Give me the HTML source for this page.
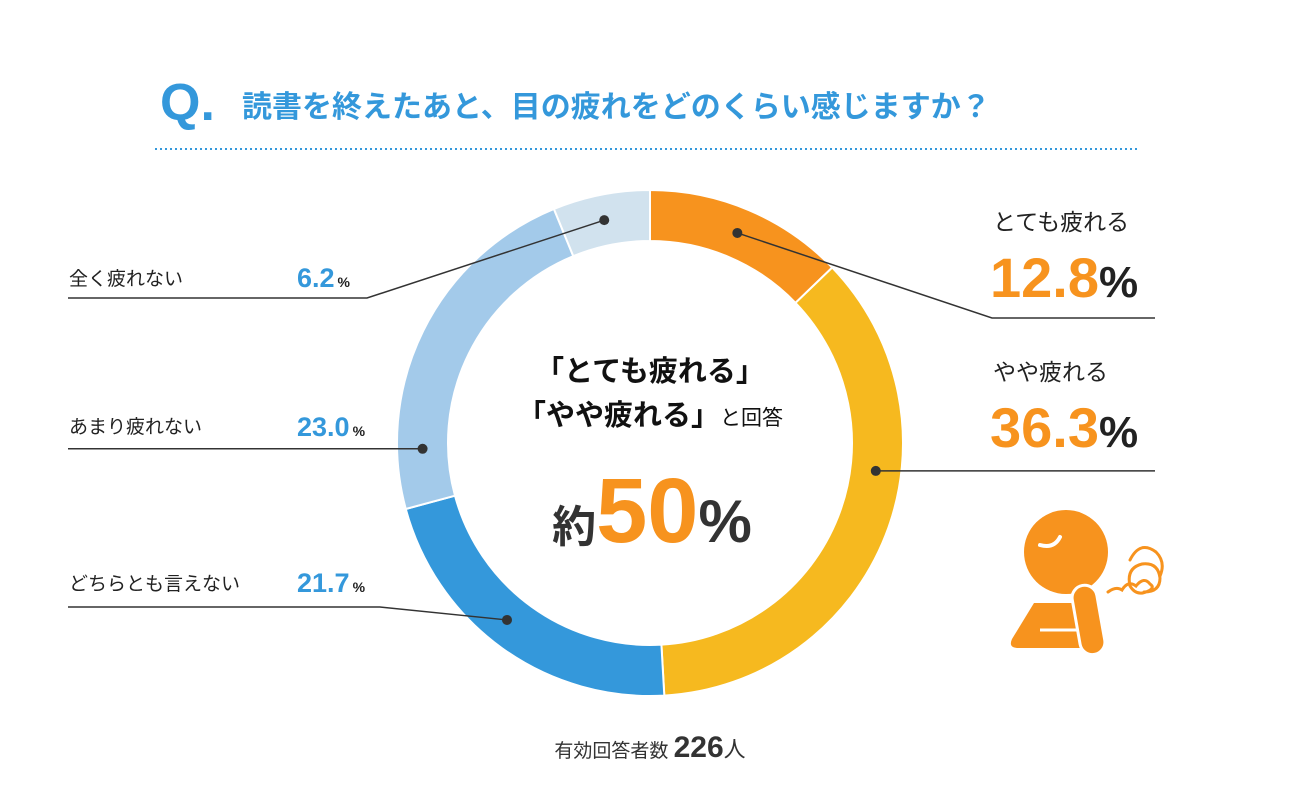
<!DOCTYPE html>
<html lang="ja"><head><meta charset="utf-8">
<style>
body{margin:0;width:1300px;height:800px;background:#fff;overflow:hidden;font-family:"Liberation Sans","Noto Sans CJK JP",sans-serif;color:#222}
svg{position:absolute;left:0;top:0}
</style></head><body>
<svg id="chart" width="1300" height="800" viewBox="0 0 1300 800">
  <text x="160" y="120" font-size="52" font-weight="bold" fill="#3498DB" font-family="Liberation Sans, sans-serif">Q.</text>
  <text x="242" y="117" font-size="30" font-weight="bold" fill="#3498DB" font-family="Liberation Sans, Noto Sans CJK JP, sans-serif">読書を終えたあと、目の疲れをどのくらい感じますか？</text>
  <line x1="155" y1="149" x2="1140" y2="149" stroke="#3498DB" stroke-width="2" stroke-dasharray="2 3"/>
  <g id="slices"></g>
  <g id="leaders"></g>
  <g id="labels"></g>
  <g font-family="Liberation Sans, Noto Sans CJK JP, sans-serif" text-anchor="middle">
    <text x="650" y="381" font-size="29" font-weight="bold" fill="#111">「とても疲れる」</text>
    <text x="650" y="425" font-size="29" font-weight="bold" fill="#111">「やや疲れる」<tspan font-size="21" font-weight="normal">と回答</tspan></text>
    <text x="652" y="542" fill="#333"><tspan font-size="44" font-weight="bold">約</tspan><tspan font-size="92" font-weight="bold" fill="#F7931E">50</tspan><tspan font-size="60" font-weight="bold">%</tspan></text>
  </g>
  <text x="650" y="757" text-anchor="middle" font-family="Liberation Sans, Noto Sans CJK JP, sans-serif" fill="#333"><tspan font-size="19">有効回答者数 </tspan><tspan font-size="30" font-weight="bold">226</tspan><tspan font-size="22">人</tspan></text>
  <g fill="#F7931E">
    <circle cx="1066" cy="552" r="42"/>
    <path d="M1040 545 q14 4 20 -8" stroke="#fff" stroke-width="4" fill="none" stroke-linecap="round"/>
    <path d="M1034 603 h46 l4 45 h-66 q-10 0 -6 -9 z"/>
    <line x1="1040" y1="630" x2="1078" y2="630" stroke="#fff" stroke-width="3"/>
    <rect x="1076" y="585" width="25" height="70" rx="12.5" transform="rotate(-10 1088 620)" stroke="#fff" stroke-width="3"/>
    <path d="M1108 592 q8 -6 14 -2 q6 -10 14 -4 q8 -10 14 -2 q6 4 -4 8 q-10 4 -16 -6 q-4 -18 12 -22 q16 -2 18 14 q0 14 -16 14" stroke="#F7931E" stroke-width="3" fill="none" stroke-linecap="round"/>
    <path d="M1130 560 q10 -20 26 -8 q10 10 4 24" stroke="#F7931E" stroke-width="3" fill="none" stroke-linecap="round"/>
  </g>
</svg>
<script>
const categories=["とても疲れる","やや疲れる","どちらとも言えない","あまり疲れない","全く疲れない"];
const values=[12.8,36.3,21.7,23.0,6.2];
const valueLabels=["12.8","36.3","21.7","23.0","6.2"];
const colors=["#F7931E","#F6B91F","#3498DB","#A3CAEA","#D1E2EE"];
const NS="http://www.w3.org/2000/svg";
const cx=650,cy=443,R=253,r=202,total=values.reduce((a,b)=>a+b,0);
// layout-only: relative position of leader dot inside each slice, elbows, label baselines
const dotRel=[0.49,0.39,0.54,0.165,0.48];
const elbows=[[992,318,1155],[null,null,1155],[380,607,68],[null,null,68],[367,298,68]];
const labelY=[230,380,590,433,285];
const valueY=[297,447,592,436,287];
function pt(frac,rad){const a=frac*2*Math.PI-Math.PI/2;return [cx+rad*Math.cos(a),cy+rad*Math.sin(a)];}
function mk(tag,attrs,parent){const e=document.createElementNS(NS,tag);for(const k in attrs)e.setAttribute(k,attrs[k]);parent.appendChild(e);return e;}
const sg=document.getElementById('slices'),lg=document.getElementById('leaders'),tg=document.getElementById('labels');
let acc=0;const mids=[];
values.forEach((v,i)=>{
  const f0=acc/total,f1=(acc+v)/total;acc+=v;mids.push(f0+(f1-f0)*dotRel[i]);
  const [x0,y0]=pt(f0,R),[x1,y1]=pt(f1,R),[x2,y2]=pt(f1,r),[x3,y3]=pt(f0,r);
  const big=(f1-f0)>0.5?1:0;
  const p=mk('path',{d:`M${x0} ${y0}A${R} ${R} 0 ${big} 1 ${x1} ${y1}L${x2} ${y2}A${r} ${r} 0 ${big} 0 ${x3} ${y3}Z`,fill:colors[i],stroke:'#fff','stroke-width':2},sg);
  
  
});
const dotR=(R+r)/2;
mids.forEach((m,i)=>{
  const [dx,dy]=pt(m,dotR);
  const e=elbows[i];
  const ey=e[1]===null?dy:e[1], ex=e[0]===null?dx:e[0];
  const pl=mk('polyline',{points:`${dx},${dy} ${ex},${ey} ${e[2]},${ey}`,fill:'none',stroke:'#333','stroke-width':1.5},lg);
  
  
  const c=mk('circle',{cx:dx,cy:dy,r:5,fill:'#333'},lg);
  
  
  if(i<2){
    const t=mk('text',{x:993,y:labelY[i],'font-size':23,fill:'#222'},tg);t.textContent=categories[i];
    
    
    const vt=mk('text',{x:990,y:valueY[i],'font-size':56,'font-weight':'bold',fill:'#F7931E'},tg);
    vt.innerHTML=valueLabels[i]+'<tspan fill="#222" font-size="44">%</tspan>';
    
    
  }else{
    const t=mk('text',{x:69,y:labelY[i],'font-size':19,fill:'#222'},tg);t.textContent=categories[i];
    
    
    const vt=mk('text',{x:297,y:valueY[i],'font-size':27,'font-weight':'bold',fill:'#3498DB'},tg);
    vt.innerHTML=valueLabels[i]+'<tspan fill="#222" font-size="14" dx="3">%</tspan>';
    
    
  }
});
</script>
</body></html>
